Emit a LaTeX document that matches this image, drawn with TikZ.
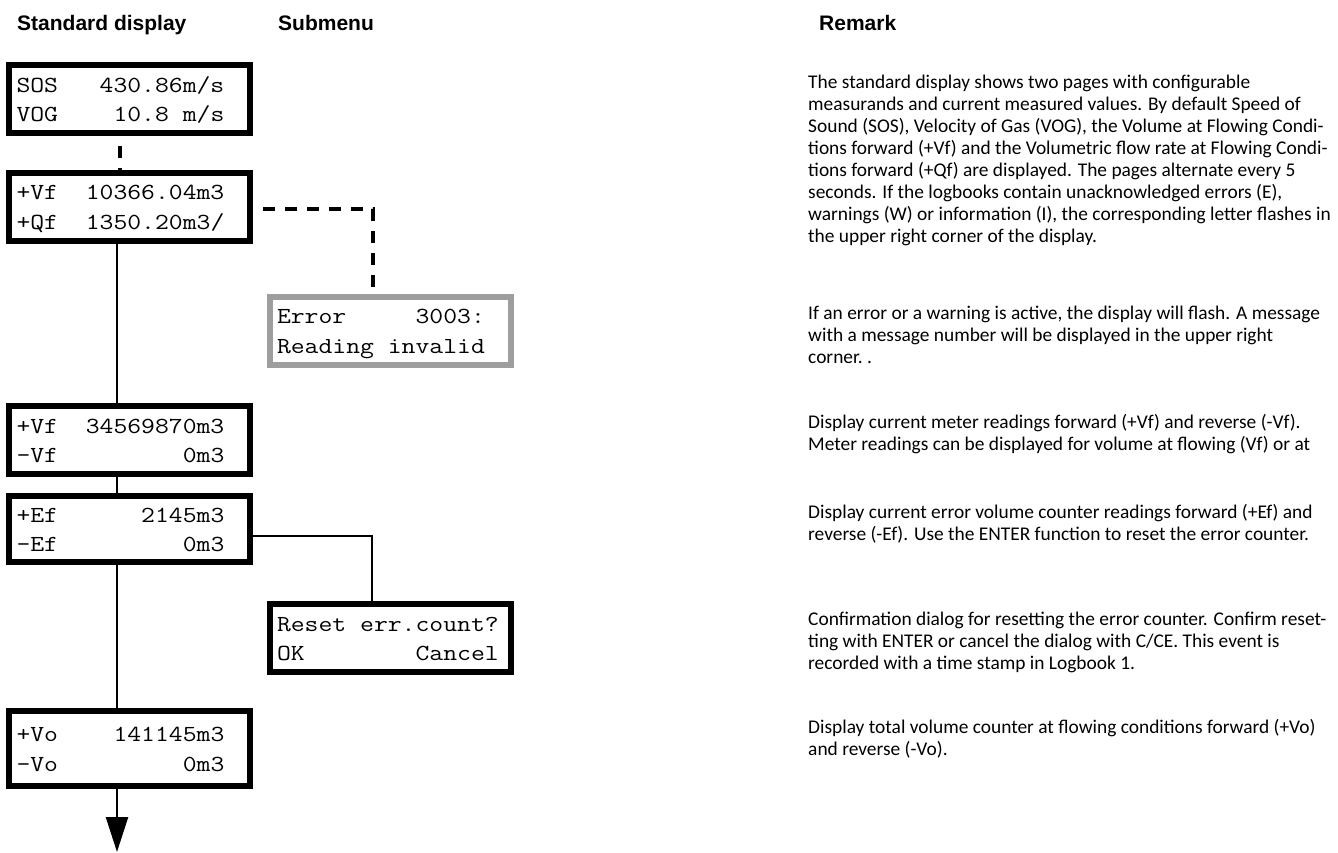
\documentclass[tikz,border=0pt]{standalone}
\usepackage{fontspec}
\setmainfont{Carlito}
\setsansfont{Liberation Sans}
\newfontfamily\lcdfont{Latin Modern Mono}[FakeStretch=1.17]
\usetikzlibrary{arrows.meta}
\definecolor{boxgray}{RGB}{158,158,158}
\newcommand{\lcdstrut}{\rule[-7pt]{0pt}{29.5pt}}
\newcommand{\rstrut}{\rule[-6.6pt]{0pt}{22pt}}
\newcommand{\bk}{\hphantom{0}}
\begin{document}
\begin{tikzpicture}[x=1pt,y=-1pt,
  lcd/.style={draw=black, line width=6pt, fill=white, inner xsep=7.5pt, inner ysep=0pt,
    text width=226pt, align=left, minimum height=68pt,
    font=\fontsize{23}{29.5}\selectfont\lcdfont},
  lcdgray/.style={lcd, draw=boxgray},
  header/.style={anchor=base west, inner sep=0pt, font=\fontsize{21}{25}\selectfont\sffamily\bfseries},
  remark/.style={anchor=north west, inner sep=0pt, align=left, font=\fontsize{19.4}{22}\selectfont},
  conn/.style={line width=2.5pt},
  dconn/.style={line width=3.5pt, dash pattern=on 12pt off 10pt, dash phase=12pt},
]
\useasboundingbox (0,0) rectangle (1338,852);

% headers
\node[header] (h1) at (17,30) {Standard display};
\node[header] (h2) at (278,30) {Submenu};
\node[header] (h3) at (819,30) {Remark};

% displays
\node[lcd] (b1) at (129.5,99) {\lcdstrut SOS\bk\bk\bk430.86m/s\\\lcdstrut VOG\bk\bk\bk\bk10.8\bk m/s};
\node[lcd] (b2) at (129.5,206.5) {\lcdstrut +Vf\bk\bk10366.04m3\\\lcdstrut +Qf\bk\bk1350.20m3/};
\node[lcdgray] (err) at (390,330.5) {\lcdstrut Error\bk\bk\bk\bk\bk3003:\\\lcdstrut Reading\bk invalid};
\node[lcd] (b3) at (129.5,440) {\lcdstrut +Vf\bk\bk34569870m3\\\lcdstrut -Vf\bk\bk\bk\bk\bk\bk\bk\bk\bk0m3};
\node[lcd, minimum height=66pt] (b4) at (129.5,529) {\lcdstrut +Ef\bk\bk\bk\bk\bk\bk2145m3\\\lcdstrut -Ef\bk\bk\bk\bk\bk\bk\bk\bk\bk0m3};
\node[lcd] (rst) at (390,638) {\lcdstrut Reset\bk err.count?\\\lcdstrut OK\bk\bk\bk\bk\bk\bk\bk\bk Cancel};
\node[lcd, minimum height=75pt] (b5) at (129.5,748.5) {\lcdstrut +Vo\bk\bk\bk\bk141145m3\\\lcdstrut -Vo\bk\bk\bk\bk\bk\bk\bk\bk\bk0m3};

% connector helpers
\coordinate (sx) at (117,0);
\coordinate (dx) at (120,0);
\coordinate (ecorner) at (373,209);
\coordinate (rcorner) at (372,536);
\coordinate (endpt) at (117,852);

\draw[dconn] (b1.south -| dx) -- (b2.north -| dx);
\draw[dconn] (b2.east |- ecorner) -- (ecorner) -- (err.north -| ecorner);
\draw[conn] (b2.south -| sx) -- (b3.north -| sx);
\draw[conn] (b3.south -| sx) -- (b4.north -| sx);
\draw[conn] (b4.east |- rcorner) -- (rcorner) -- (rst.north -| rcorner);
\draw[conn] (b4.south -| sx) -- (b5.north -| sx);
\draw[conn, -{Triangle[width=22pt,length=35pt]}] (b5.south -| sx) -- (endpt);

% remarks
\node[remark] (r1) at (808,72.6) {\rstrut The standard display shows two pages with configurable\\
\rstrut measurands and current measured values. By default Speed of\\
\rstrut Sound (SOS), Velocity of Gas (VOG), the Volume at Flowing Condi-\\
\rstrut tions forward (+Vf) and the Volumetric flow rate at Flowing Condi-\\
\rstrut tions forward (+Qf) are displayed. The pages alternate every 5\\
\rstrut seconds. If the logbooks contain unacknowledged errors (E),\\
\rstrut warnings (W) or information (I), the corresponding letter flashes in\\
\rstrut the upper right corner of the display.};
\node[remark] (r2) at (808,303.6) {\rstrut If an error or a warning is active, the display will flash. A message\\
\rstrut with a message number will be displayed in the upper right\\
\rstrut corner.\ .};
\node[remark] (r3) at (808,412.6) {\rstrut Display current meter readings forward (+Vf) and reverse (-Vf).\\
\rstrut Meter readings can be displayed for volume at flowing (Vf) or at};
\node[remark] (r4) at (808,502.6) {\rstrut Display current error volume counter readings forward (+Ef) and\\
\rstrut reverse (-Ef). Use the ENTER function to reset the error counter.};
\node[remark] (r5) at (808,609.6) {\rstrut Confirmation dialog for resetting the error counter. Confirm reset-\\
\rstrut ting with ENTER or cancel the dialog with C/CE. This event is\\
\rstrut recorded with a time stamp in Logbook 1.};
\node[remark] (r6) at (808,717.6) {\rstrut Display total volume counter at flowing conditions forward (+Vo)\\
\rstrut and reverse (-Vo).};
\end{tikzpicture}
\end{document}
